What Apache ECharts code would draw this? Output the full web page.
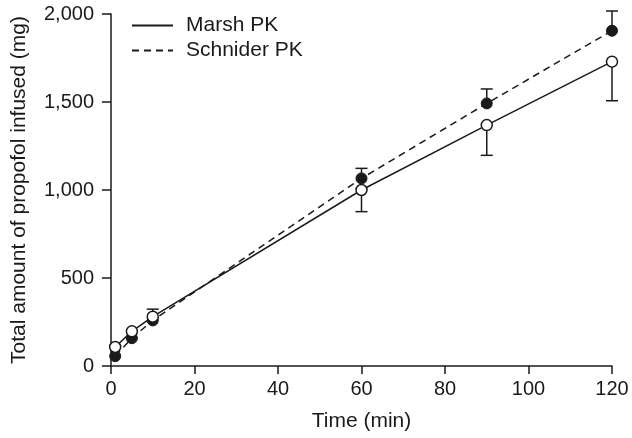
<!DOCTYPE html>
<html>
<head>
<meta charset="utf-8">
<script src="https://cdn.jsdelivr.net/npm/echarts@6/dist/echarts.min.js"></script>
<style>
  html, body { margin: 0; padding: 0; background: #fff; }
  #chart { width: 632px; height: 438px; }
</style>
</head>
<body>
<div id="chart"></div>
<script>
// Sampling times (min)
const times = [1, 5, 10, 60, 90, 120];
// Cumulative propofol infused (mg), mean per model
const marshMean = [108, 197, 280, 1000, 1369, 1729];
const schniderMean = [56, 158, 259, 1066, 1492, 1905];
// Standard deviations; null where no bar is drawn
const marshSD = [null, null, null, 123, 172, 222];      // drawn downward
const schniderSD = [null, null, 64, 57, 82, 112];      // drawn upward
const yTicks = [0, 500, 1000, 1500, 2000];

const FONT = 'Liberation Sans, Arial, sans-serif';
const INK = '#1a1a1a';

function pairs(xs, ys) { return xs.map((x, i) => [x, ys[i]]); }

function errorData(xs, mean, sd, dir) {
  const out = [];
  xs.forEach((x, i) => {
    if (sd[i] != null) out.push([x, mean[i], mean[i] + dir * sd[i]]);
  });
  return out;
}

function renderBar(params, api) {
  const base = api.coord([api.value(0), api.value(1)]);
  const end = api.coord([api.value(0), api.value(2)]);
  const half = 6;
  return {
    type: 'group',
    children: [
      { type: 'line', shape: { x1: base[0], y1: base[1], x2: end[0], y2: end[1] },
        style: { stroke: INK, lineWidth: 1.5 } },
      { type: 'line', shape: { x1: end[0] - half, y1: end[1], x2: end[0] + half, y2: end[1] },
        style: { stroke: INK, lineWidth: 1.5 } }
    ]
  };
}

const chart = echarts.init(document.getElementById('chart'), null, { renderer: 'canvas' });
chart.setOption({
  animation: false,
  backgroundColor: '#fff',
  grid: { left: 111, right: 20, top: 14, bottom: 72, containLabel: false },
  legend: {
    data: ['Marsh PK', 'Schnider PK'],
    orient: 'vertical',
    left: 126,
    top: 10,
    itemWidth: 41,
    itemHeight: 14,
    itemGap: 4,
    itemStyle: { opacity: 0, color: 'rgba(0,0,0,0)', borderWidth: 0 },
    textStyle: { fontFamily: FONT, fontSize: 21, color: INK, padding: [0, 0, 0, 8] }
  },
  xAxis: {
    type: 'value',
    min: 0, max: 120, interval: 20,
    name: 'Time (min)',
    nameLocation: 'middle',
    nameGap: 45,
    nameTextStyle: { fontFamily: FONT, fontSize: 21, color: INK },
    axisLine: { show: true, onZero: false, lineStyle: { color: INK, width: 1.5 } },
    axisTick: { show: true, length: 8, lineStyle: { color: INK, width: 1.5 } },
    axisLabel: { fontFamily: FONT, fontSize: 20, color: INK, margin: 13 },
    splitLine: { show: false }
  },
  yAxis: {
    type: 'value',
    min: yTicks[0], max: yTicks[yTicks.length - 1], interval: 500,
    name: 'Total amount of propofol infused (mg)',
    nameLocation: 'middle',
    nameGap: 81,
    nameTextStyle: { fontFamily: FONT, fontSize: 21, color: INK },
    axisLine: { show: true, lineStyle: { color: INK, width: 1.5 } },
    axisTick: { show: true, length: 9, lineStyle: { color: INK, width: 1.5 } },
    axisLabel: {
      fontFamily: FONT, fontSize: 20, color: INK, margin: 17,
      formatter: v => v.toLocaleString('en-US')
    },
    splitLine: { show: false }
  },
  series: [
    {
      name: 'Marsh PK', type: 'line', symbol: 'none',
      data: pairs(times, marshMean),
      lineStyle: { color: INK, width: 1.5, type: 'solid' },
      itemStyle: { color: INK },
      z: 2
    },
    {
      name: 'Schnider PK', type: 'line', symbol: 'none',
      data: pairs(times, schniderMean),
      lineStyle: { color: INK, width: 1.5, type: [7, 5] },
      itemStyle: { color: INK },
      z: 2
    },
    {
      name: 'Marsh SD', type: 'custom', renderItem: renderBar,
      data: errorData(times, marshMean, marshSD, -1),
      encode: { x: 0, y: [1, 2] }, z: 3
    },
    {
      name: 'Schnider SD', type: 'custom', renderItem: renderBar,
      data: errorData(times, schniderMean, schniderSD, 1),
      encode: { x: 0, y: [1, 2] }, z: 3
    },
    {
      name: 'Schnider points', type: 'scatter', symbol: 'circle', symbolSize: 11,
      data: pairs(times, schniderMean),
      itemStyle: { color: INK, borderColor: INK, borderWidth: 1, opacity: 1 },
      z: 4
    },
    {
      name: 'Marsh points', type: 'scatter', symbol: 'circle', symbolSize: 11,
      data: pairs(times, marshMean),
      itemStyle: { color: '#fff', borderColor: INK, borderWidth: 1.5, opacity: 1 },
      z: 5
    }
  ]
});
</script>
</body>
</html>
